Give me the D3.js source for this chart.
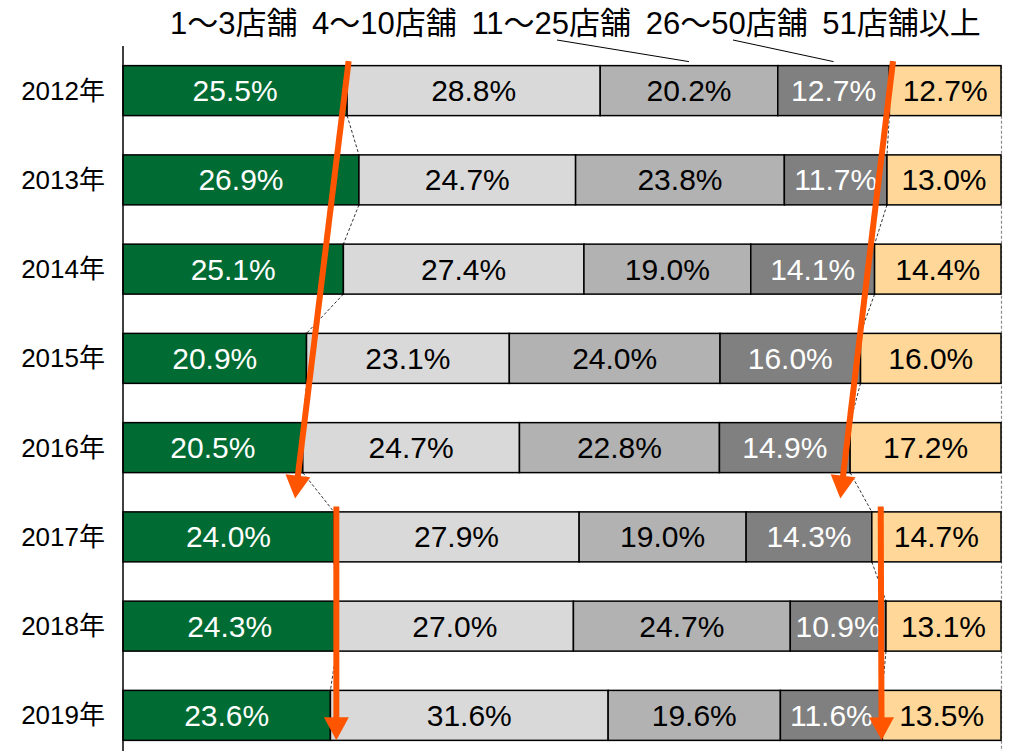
<!DOCTYPE html>
<html>
<head>
<meta charset="utf-8">
<script src="https://cdn.jsdelivr.net/npm/d3@7"></script>
<style>
  body { margin: 0; background: #fff; }
  text { font-family: "Liberation Sans", Arial, "Noto Sans CJK JP", sans-serif; }
</style>
</head>
<body>
<div id="canvas"></div>
<script>
"use strict"

/* data */
let years = ["2012年", "2013年", "2014年", "2015年", "2016年", "2017年", "2018年", "2019年"];
let categories = ["1～3店舗", "4～10店舗", "11～25店舗", "26～50店舗", "51店舗以上"];
let shops1to3   = [25.5, 26.9, 25.1, 20.9, 20.5, 24.0, 24.3, 23.6];
let shops4to10  = [28.8, 24.7, 27.4, 23.1, 24.7, 27.9, 27.0, 31.6];
let shops11to25 = [20.2, 23.8, 19.0, 24.0, 22.8, 19.0, 24.7, 19.6];
let shops26to50 = [12.7, 11.7, 14.1, 16.0, 14.9, 14.3, 10.9, 11.6];
let shops51plus = [12.7, 13.0, 14.4, 16.0, 17.2, 14.7, 13.1, 13.5];

/* drawing config */
let svgWidth = 1010;
let svgHeight = 751;
let colors = ["#006B33", "#D9D9D9", "#B2B2B2", "#808080", "#FFD899"];
let labelColors = ["#ffffff", "#000000", "#000000", "#ffffff", "#000000"];
let arrowColor = "#FF5500";

let svg = d3.select("#canvas")
    .append("svg")
    .attr("width", svgWidth)
    .attr("height", svgHeight);

let series = [shops1to3, shops4to10, shops11to25, shops26to50, shops51plus];

// one row per year, normalised to 100% like the original chart
let rows = years.map(function(y, i) {
    let vals = series.map(function(s) { return s[i]; });
    let total = d3.sum(vals);
    let cum = 0;
    let segs = vals.map(function(v, k) {
        let seg = {k: k, v: v, x0: cum / total * 100, x1: (cum + v) / total * 100};
        cum += v;
        return seg;
    });
    return {year: y, i: i, segs: segs};
});

let xScale = d3.scaleLinear()
    .domain([0, 100])
    .range([123, 1001]);

let yScale = d3.scaleBand()
    .domain(years)
    .range([46, 760])
    .paddingInner(0.44)
    .paddingOuter(0.22);

// row index (can be fractional) -> pixel, used for the annotations
function rowY(r) {
    return yScale(years[0]) + yScale.bandwidth() / 2 + r * yScale.step();
}

/* right dashed frame line */
svg.append("line")
    .attr("x1", xScale(100) + 0.5)
    .attr("x2", xScale(100) + 0.5)
    .attr("y1", yScale(years[0]))
    .attr("y2", svgHeight)
    .attr("stroke", "#8c8c8c")
    .attr("stroke-width", 1.2)
    .attr("stroke-dasharray", "3,2");

/* series lines between bars (after 1st and 4th category) */
[0, 3].forEach(function(k) {
    for (let i = 0; i < rows.length - 1; i++) {
        svg.append("line")
            .attr("x1", xScale(rows[i].segs[k].x1))
            .attr("y1", yScale(rows[i].year) + yScale.bandwidth())
            .attr("x2", xScale(rows[i + 1].segs[k].x1))
            .attr("y2", yScale(rows[i + 1].year))
            .attr("stroke", "#000")
            .attr("stroke-width", 0.8)
            .attr("stroke-dasharray", "3,2");
    }
});

/* bars */
let rowG = svg.selectAll("g.row")
    .data(rows)
    .join("g")
    .attr("class", "row");

rowG.selectAll("rect")
    .data(function(d) { return d.segs.map(function(s) { return Object.assign({year: d.year}, s); }); })
    .join("rect")
    .attr("x", function(d) { return xScale(d.x0); })
    .attr("y", function(d) { return yScale(d.year); })
    .attr("width", function(d) { return xScale(d.x1) - xScale(d.x0); })
    .attr("height", yScale.bandwidth())
    .attr("fill", function(d) { return colors[d.k]; })
    .attr("stroke", "#000")
    .attr("stroke-width", 1.5);

rowG.selectAll("text")
    .data(function(d) { return d.segs.map(function(s) { return Object.assign({year: d.year}, s); }); })
    .join("text")
    .attr("x", function(d) { return (xScale(d.x0) + xScale(d.x1)) / 2; })
    .attr("y", function(d) { return yScale(d.year) + yScale.bandwidth() / 2; })
    .attr("text-anchor", "middle")
    .attr("dominant-baseline", "central")
    .attr("font-size", 30)
    .attr("fill", function(d) { return labelColors[d.k]; })
    .text(function(d) { return d.v.toFixed(1) + "%"; });

/* left axis */
svg.append("line")
    .attr("x1", xScale(0))
    .attr("x2", xScale(0))
    .attr("y1", 46)
    .attr("y2", svgHeight)
    .attr("stroke", "#000")
    .attr("stroke-width", 1.5);

svg.selectAll("text.year")
    .data(years)
    .join("text")
    .attr("class", "year")
    .attr("x", 105)
    .attr("y", function(d) { return yScale(d) + yScale.bandwidth() / 2; })
    .attr("text-anchor", "end")
    .attr("dominant-baseline", "central")
    .attr("font-size", 26)
    .text(function(d) { return d; });

/* legend along the top, one line */
svg.append("text")
    .attr("x", 170)
    .attr("y", 34)
    .attr("font-size", 31)
    .attr("word-spacing", 6)
    .text(categories.join(" "));

// leader lines from two legend entries down to the 2012 segments
let leaders = [{k: 2, fromX: 557}, {k: 3, fromX: 733}];
leaders.forEach(function(l) {
    let s = rows[0].segs[l.k];
    svg.append("line")
        .attr("x1", l.fromX)
        .attr("y1", 40)
        .attr("x2", xScale((s.x0 + s.x1) / 2))
        .attr("y2", yScale(years[0]) - 4)
        .attr("stroke", "#000")
        .attr("stroke-width", 1);
});

/* orange arrows (x in %, y in row units) */
let arrows = [
    {x1: 25.7, r1: -0.33, x2: 19.6, r2: 4.57},
    {x1: 87.7, r1: -0.33, x2: 81.7, r2: 4.57},
    {x1: 24.3, r1: 4.66, x2: 24.3, r2: 7.28},
    {x1: 86.3, r1: 4.66, x2: 86.4, r2: 7.28}
];
let headLen = 23;
let headW = 25;

arrows.forEach(function(a) {
    let sx = xScale(a.x1), sy = rowY(a.r1);
    let tx = xScale(a.x2), ty = rowY(a.r2);
    let len = Math.hypot(tx - sx, ty - sy);
    let ux = (tx - sx) / len, uy = (ty - sy) / len;
    let bx = tx - ux * headLen, by = ty - uy * headLen;
    svg.append("line")
        .attr("x1", sx)
        .attr("y1", sy)
        .attr("x2", bx + ux * 2)
        .attr("y2", by + uy * 2)
        .attr("stroke", arrowColor)
        .attr("stroke-width", 6);
    let px = -uy, py = ux;
    svg.append("polygon")
        .attr("points", [
            [tx, ty],
            [bx + px * headW / 2, by + py * headW / 2],
            [bx - px * headW / 2, by - py * headW / 2]
        ].map(function(p) { return p.join(","); }).join(" "))
        .attr("fill", arrowColor);
});
</script>
</body>
</html>
